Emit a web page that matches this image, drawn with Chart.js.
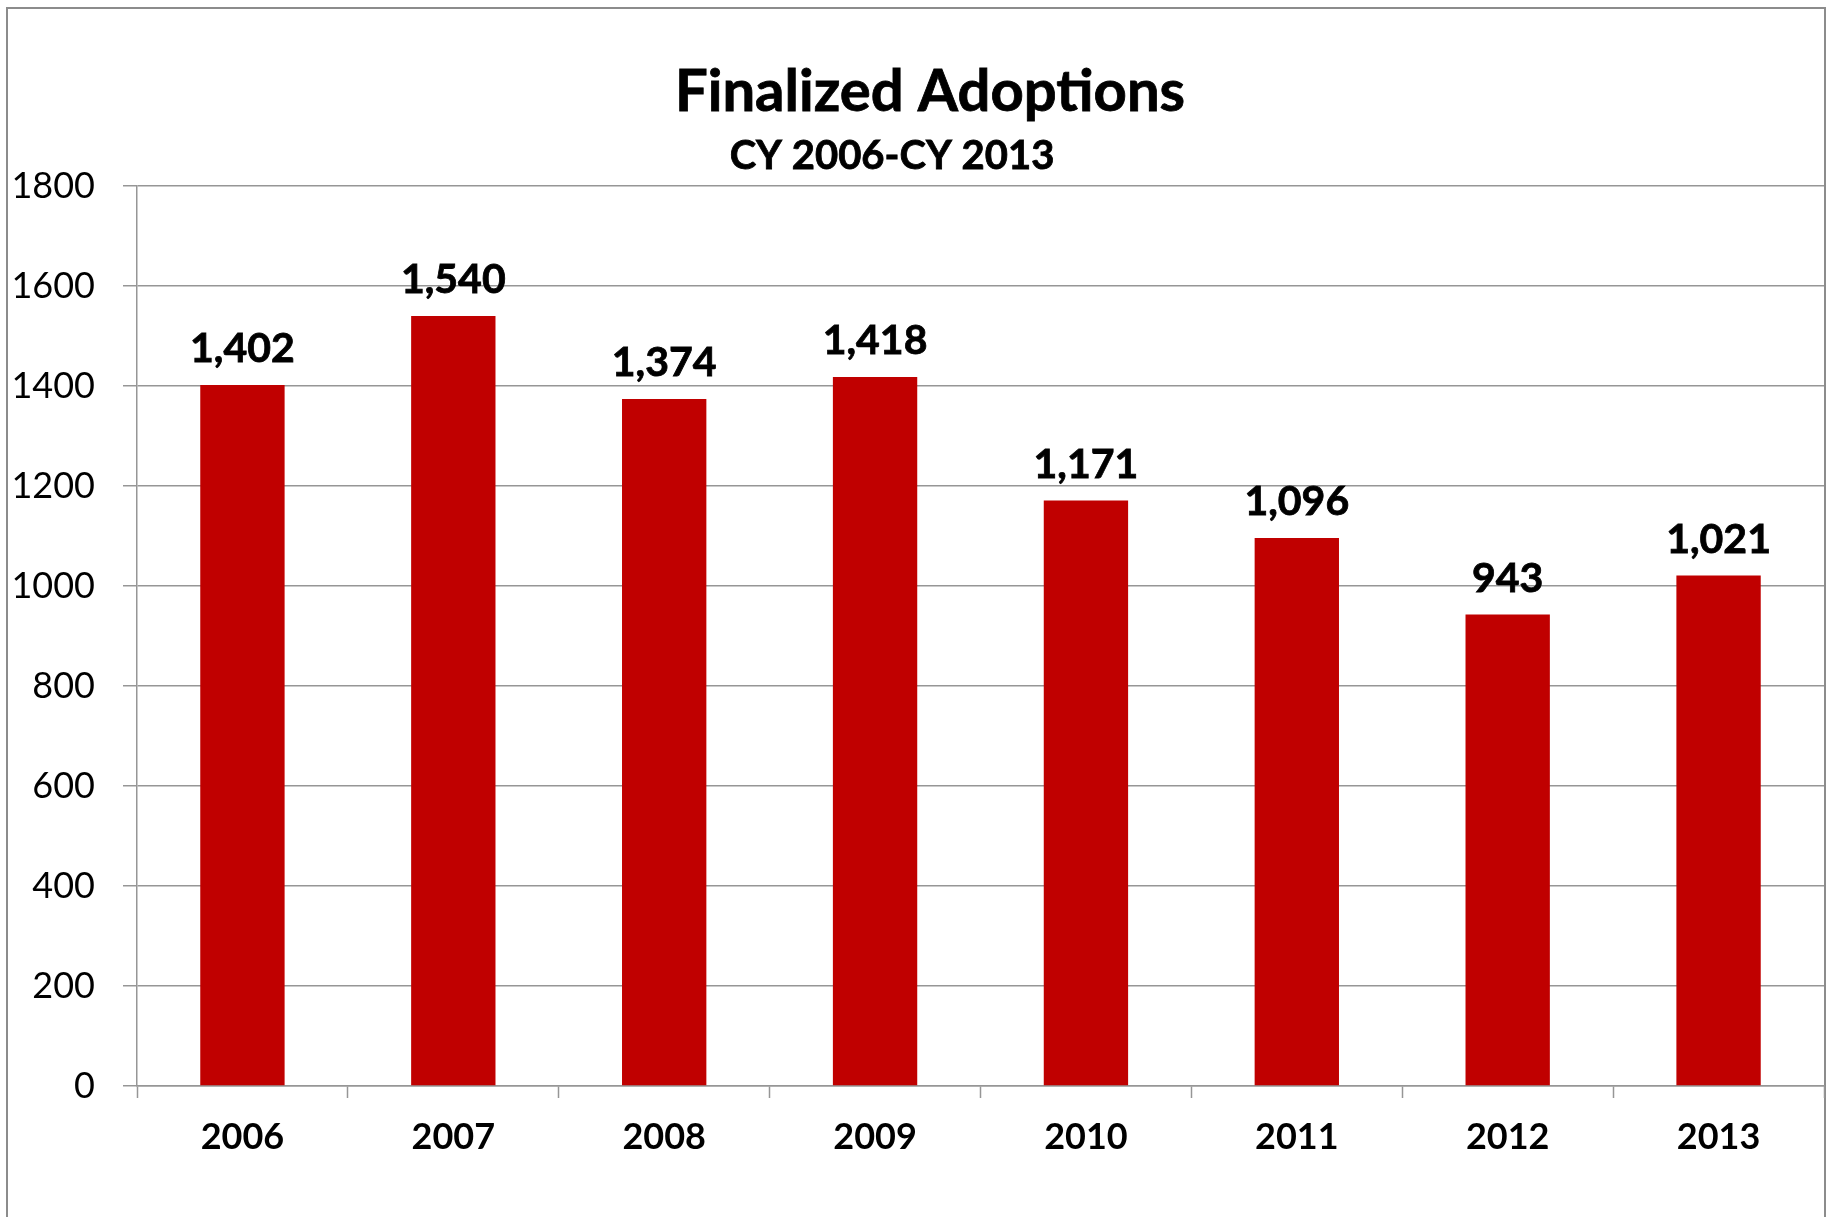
<!DOCTYPE html>
<html>
<head>
<meta charset="utf-8">
<title>Finalized Adoptions</title>
<script src="https://cdn.jsdelivr.net/npm/chart.js@4/dist/chart.umd.min.js"></script>
<style>
  html, body { margin: 0; padding: 0; background: #fff; }
  #wrap { width: 1828px; height: 1217px; }
</style>
</head>
<body>
<div id="wrap"><canvas id="adoptionsChart" width="1828" height="1217"></canvas></div>
<script>
// Calendar years and finalized adoption counts
const years = ['2006', '2007', '2008', '2009', '2010', '2011', '2012', '2013'];
const adoptions = [1402, 1540, 1374, 1418, 1171, 1096, 943, 1021];
const yTicks = [0, 200, 400, 600, 800, 1000, 1200, 1400, 1600, 1800];

const titleText = 'Finalized Adoptions';
const subtitleText = 'CY 2006-CY 2013';

const FONT = 'Lato, "Open Sans", sans-serif';
const GRID = '#969696';

// White background plus the grey frame round the whole chart
const framePlugin = {
    id: 'frame',
    beforeDraw(chart) {
        const ctx = chart.ctx;
        ctx.save();
        ctx.fillStyle = '#fff';
        ctx.fillRect(0, 0, chart.width, chart.height);
        ctx.strokeStyle = '#8c8c8c';
        ctx.lineWidth = 2;
        ctx.strokeRect(7, 8, chart.width - 10, chart.height + 20);
        ctx.restore();
    }
};

// Two-line heading, each line centred on its own point
const headingPlugin = {
    id: 'heading',
    afterDraw(chart) {
        const ctx = chart.ctx;
        ctx.save();
        ctx.fillStyle = '#000';
        ctx.strokeStyle = '#000';
        ctx.lineWidth = 0.8;
        ctx.textAlign = 'center';
        ctx.textBaseline = 'alphabetic';
        ctx.font = 'bold 58px ' + FONT;
        ctx.fillText(titleText, 930, 111);
        ctx.strokeText(titleText, 930, 111);
        ctx.font = 'bold 40px ' + FONT;
        ctx.fillText(subtitleText, 892, 169);
        ctx.strokeText(subtitleText, 892, 169);
        ctx.restore();
    }
};

// Value above each bar, with thousands separator
const valueLabels = {
    id: 'valueLabels',
    afterDatasetsDraw(chart) {
        const ctx = chart.ctx;
        const meta = chart.getDatasetMeta(0);
        ctx.save();
        ctx.fillStyle = '#000';
        ctx.strokeStyle = '#000';
        ctx.lineWidth = 0.8;
        ctx.font = 'bold 41px ' + FONT;
        ctx.textAlign = 'center';
        ctx.textBaseline = 'alphabetic';
        meta.data.forEach((bar, i) => {
            const txt = adoptions[i].toLocaleString('en-US');
            ctx.fillText(txt, bar.x, bar.y - 23);
            ctx.strokeText(txt, bar.x, bar.y - 23);
        });
        ctx.restore();
    }
};

new Chart(document.getElementById('adoptionsChart'), {
    type: 'bar',
    data: {
        labels: years,
        datasets: [{
            label: 'Finalized Adoptions',
            data: adoptions,
            backgroundColor: '#C00000',
            borderWidth: 0,
            categoryPercentage: 1.0,
            barPercentage: 0.4
        }]
    },
    options: {
        responsive: false,
        animation: false,
        layout: { padding: { top: 186, right: 4, left: 0, bottom: 0 } },
        plugins: {
            legend: { display: false },
            title: { display: false },
            tooltip: { enabled: false }
        },
        scales: {
            x: {
                grid: {
                    display: true,
                    drawOnChartArea: false,
                    drawTicks: true,
                    tickLength: 12,
                    tickWidth: 1.5,
                    tickColor: GRID
                },
                border: { color: GRID, width: 1.5 },
                ticks: {
                    color: '#000',
                    padding: 18,
                    font: { family: FONT, size: 36, weight: 'bold' }
                },
                afterFit(scale) { scale.height = 131; }
            },
            y: {
                min: 0,
                max: 1800,
                afterBuildTicks(scale) { scale.ticks = yTicks.map(v => ({ value: v })); },
                grid: {
                    color: GRID,
                    lineWidth: 1.5,
                    drawTicks: true,
                    tickLength: 14
                },
                border: { color: GRID, width: 1.5 },
                ticks: {
                    color: '#000',
                    padding: 28,
                    font: { family: FONT, size: 36 },
                    callback: v => String(v)
                },
                afterFit(scale) { scale.width = 137; }
            }
        }
    },
    plugins: [framePlugin, headingPlugin, valueLabels]
});
</script>
</body>
</html>
